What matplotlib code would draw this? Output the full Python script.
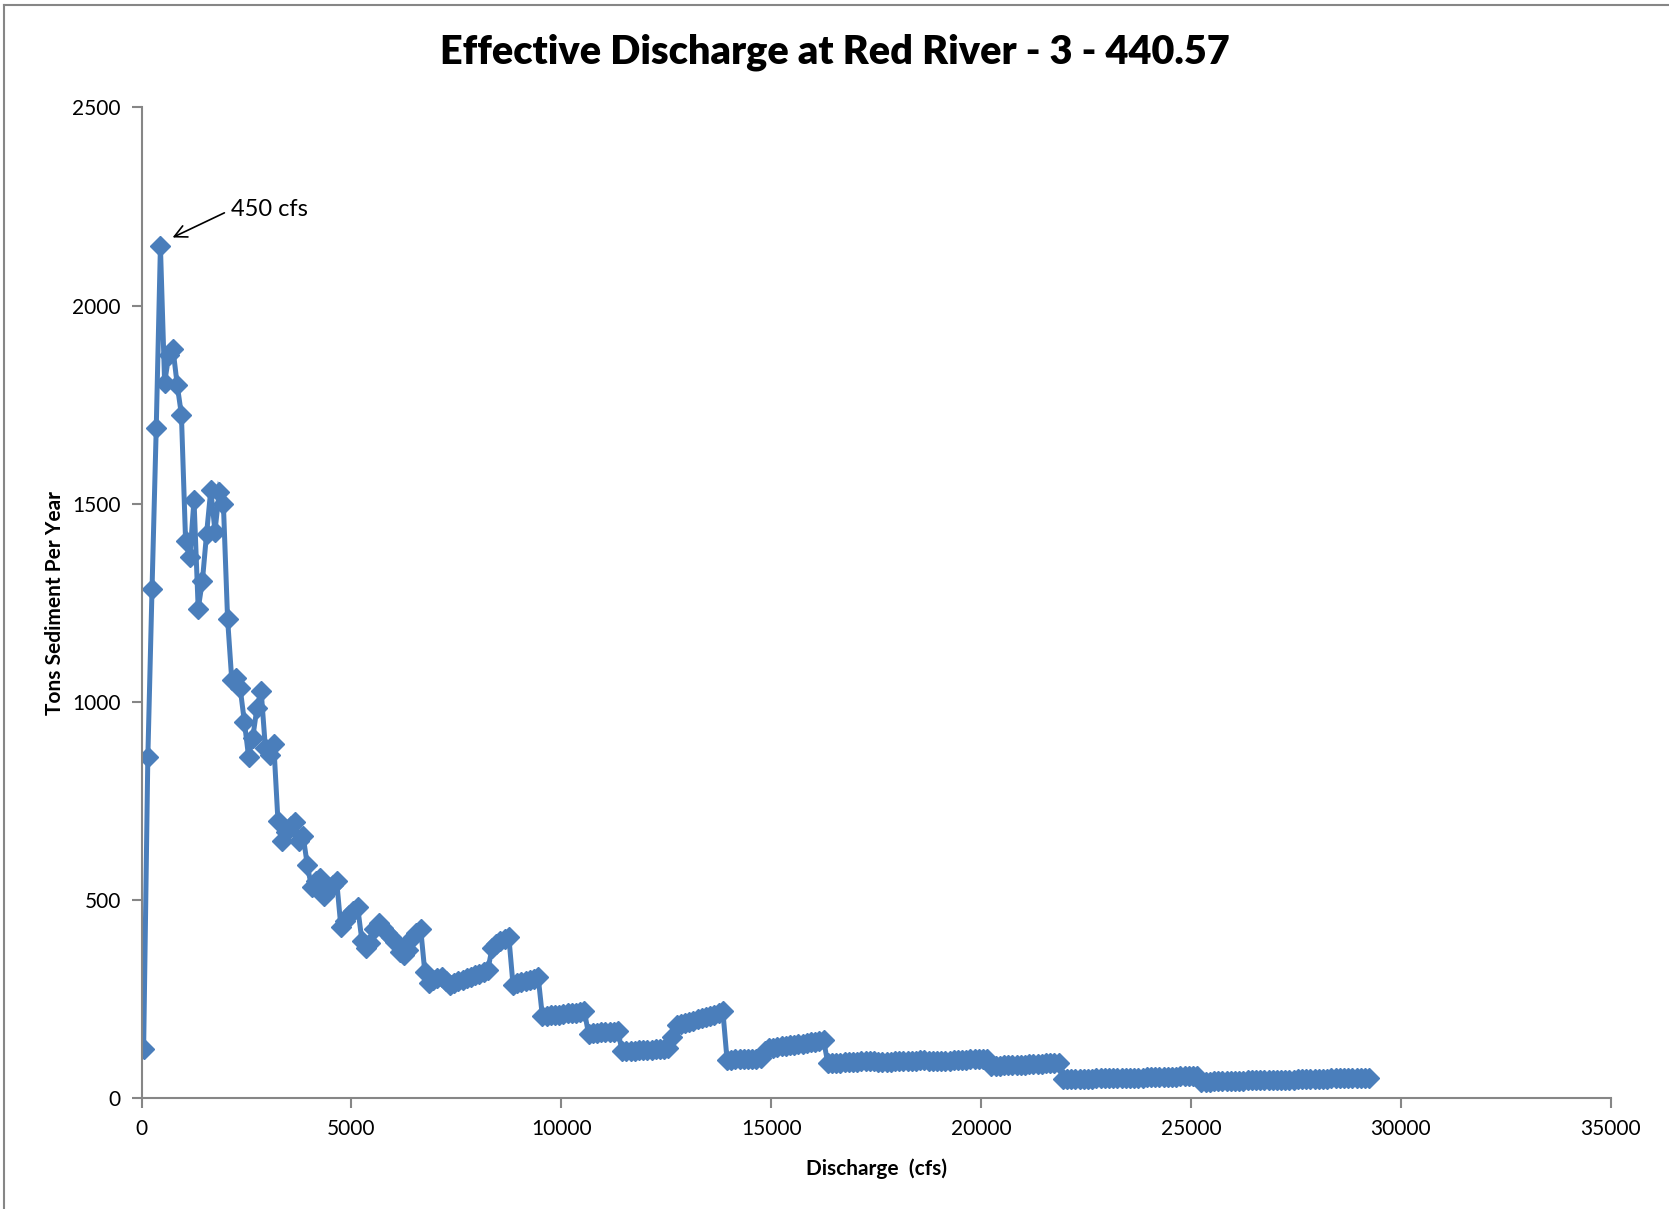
import numpy as np
import matplotlib
matplotlib.use("Agg")
import matplotlib.pyplot as plt
from matplotlib.lines import Line2D

# discharge bins (cfs), 100 cfs wide, bin centres
discharge = list(range(50, 29300, 100))

# tons sediment per year
sed_0_3k = [125, 860, 1285, 1690, 2150, 1805, 1875, 1890, 1800, 1725,
            1405, 1365, 1510, 1235, 1305, 1425, 1535, 1430, 1530, 1500,
            1210, 1055, 1060, 1035, 950, 862, 910, 985, 1028, 885]
sed_3k_7k = [865, 895, 700, 648, 672, 688, 698, 650, 662, 588,
             532, 548, 556, 510, 522, 538, 547, 432, 448, 462,
             472, 482, 398, 378, 392, 428, 442, 430, 418, 408,
             395, 368, 362, 375, 405, 417, 428, 318, 292, 298]
sed_7k_14k = [304, 307, 296, 287, 291, 295, 299, 303, 306, 310,
              314, 319, 324, 378, 390, 397, 403, 408, 287, 290,
              293, 296, 299, 302, 306, 207, 208, 209, 210, 211,
              212, 214, 215, 216, 218, 219, 163, 164, 165, 166,
              166, 167, 168, 169, 119, 119, 120, 120, 121, 122,
              122, 123, 124, 124, 125, 126, 155, 185, 187, 190,
              193, 196, 199, 202, 205, 208, 211, 215, 220]
sed_14k_22k = [97, 97, 98, 98, 99, 99, 100, 100, 101, 120,
               126, 128, 129, 131, 132, 134, 135, 137, 138, 140,
               141, 143, 144, 146, 89, 89, 90, 90, 91, 91,
               92, 92, 93, 93, 94, 94, 91, 91, 92, 92,
               93, 93, 94, 94, 95, 95, 96, 96, 93, 93,
               94, 94, 95, 95, 96, 96, 97, 97, 98, 98,
               99, 99, 100, 81, 82, 82, 83, 83, 84, 84,
               85, 85, 86, 86, 87, 87, 88, 88, 89, 89]
sed_22k_30k = [48, 48, 48, 48, 49, 49, 49, 49, 50, 50,
               50, 50, 51, 51, 51, 51, 52, 52, 52, 52,
               53, 53, 53, 53, 54, 54, 54, 54, 55, 55,
               55, 56, 56,
               42, 42, 42, 43, 43, 43, 43, 44, 44, 44,
               44, 45, 45, 45, 45, 46, 46, 46, 46, 47,
               47, 47, 47, 48, 48, 48, 48, 49, 49, 49,
               49, 50, 50, 50, 50, 51, 51, 51, 51, 52,
               52]

sediment = sed_0_3k + sed_3k_7k + sed_7k_14k + sed_14k_22k + sed_22k_30k
n = min(len(discharge), len(sediment))
discharge = discharge[:n]
sediment = sediment[:n]

title = "Effective Discharge at Red River - 3 - 440.57"
peak_label = "450 cfs"

plt.rcParams['font.family'] = ['Lato', 'DejaVu Sans']

fig = plt.figure(figsize=(16.69, 12.09), dpi=100)
ax = fig.add_axes([0.0848, 0.0916, 0.8802, 0.8195])

ax.plot(discharge, sediment, color='#4a7ebb', lw=3.6, marker='D', ms=10,
        mec='#4a7ebb', mfc='#4a7ebb', solid_joinstyle='miter')

ax.set_xlim(0, 35000)
ax.set_ylim(0, 2500)
ax.set_xticks(range(0, 35001, 5000))
ax.set_yticks(range(0, 2501, 500))

for s in ['top', 'right']:
    ax.spines[s].set_visible(False)
for s in ['left', 'bottom']:
    ax.spines[s].set_color('#868686')
    ax.spines[s].set_linewidth(1.5)
ax.tick_params(axis='both', color='#868686', width=1.5, length=7,
               labelsize=15, pad=8)

fig.text(0.5, 0.957, title, fontsize=28.5, fontweight='heavy',
         ha='center', va='center')
ax.set_xlabel("Discharge  (cfs)", fontsize=15, fontweight='bold', labelpad=14)
ax.set_ylabel("Tons Sediment Per Year", fontsize=15, fontweight='bold')
ax.yaxis.set_label_coords(-0.052, 0.5)

ax.annotate(peak_label, xy=(740, 2172), xytext=(2130, 2242),
            fontsize=17, ha='left', va='center',
            arrowprops=dict(arrowstyle='->', color='black', lw=1.2,
                            mutation_scale=22, shrinkA=3, shrinkB=0,
                            relpos=(0.0, 0.5)))

# chart area border (top and left edges visible)
fig.add_artist(Line2D([0.0026, 1.0], [0.9956, 0.9956], color='#868686', lw=1.5))
fig.add_artist(Line2D([0.0026, 0.0026], [0.0, 0.9956], color='#868686', lw=1.5))

fig.savefig("out.png", dpi=100)
